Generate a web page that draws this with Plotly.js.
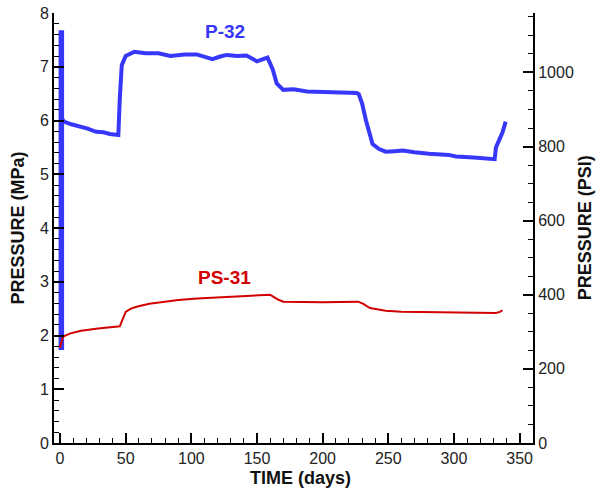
<!DOCTYPE html>
<html><head><meta charset="utf-8">
<script src="https://cdn.plot.ly/plotly-3.0.1.min.js"></script>
<style>html,body{margin:0;padding:0;background:#fff}#chart{width:599px;height:491px}</style>
</head><body><div id="chart"></div>
<script>
// P-32 initial spike (days, MPa)
const spikeDays = [1, 1];
const spikeMPa = [1.73, 7.68];
// P-32 pressure record
const p32Days = [1, 3, 8.6, 15, 21, 27.5, 33, 38, 44, 44.4, 45.5, 47, 50, 53, 56.6, 65, 75, 84, 95, 104, 110, 116, 122, 127, 135, 142, 150, 156, 158, 162, 165, 170, 178, 188, 200, 215, 226, 227.5, 230, 233, 236, 238, 243, 248, 255, 261, 270, 281, 296, 301.5, 315, 329, 331, 332, 334, 337, 339.4];
const p32MPa = [6.05, 5.98, 5.93, 5.89, 5.85, 5.79, 5.78, 5.75, 5.73, 5.73, 6.4, 7.03, 7.2, 7.24, 7.28, 7.25, 7.25, 7.2, 7.23, 7.23, 7.18, 7.14, 7.19, 7.22, 7.2, 7.21, 7.1, 7.15, 7.17, 6.95, 6.69, 6.57, 6.58, 6.54, 6.53, 6.52, 6.51, 6.49, 6.32, 6.0, 5.72, 5.56, 5.47, 5.42, 5.43, 5.44, 5.41, 5.38, 5.36, 5.33, 5.31, 5.27, 5.28, 5.5, 5.6, 5.78, 5.98];
// PS-31 pressure record
const ps31Days = [-0.2, 1, 2.3, 8, 16, 29, 44, 45.5, 46.5, 48, 50, 54, 59, 68, 79, 90, 104.5, 120, 135, 150, 157.6, 160, 162.6, 166, 170, 185, 200, 227, 231, 236, 242, 248, 260, 286, 310, 332, 335, 337];
const ps31MPa = [1.77, 1.9, 1.98, 2.04, 2.09, 2.13, 2.16, 2.17, 2.23, 2.33, 2.44, 2.5, 2.54, 2.59, 2.63, 2.66, 2.69, 2.71, 2.73, 2.75, 2.77, 2.76, 2.72, 2.67, 2.63, 2.62, 2.62, 2.63, 2.59, 2.51, 2.48, 2.46, 2.44, 2.43, 2.42, 2.42, 2.44, 2.47];
const mpaMax = 8;
const psiPerMPa = 145.0377;
const xTitle = 'TIME (days)';
const yTitle = 'PRESSURE (MPa)';
const y2Title = 'PRESSURE (PSI)';

const blue = 'rgb(55,55,250)';
const red = 'rgb(210,0,0)';
const fam = 'Liberation Sans, Arial, sans-serif';
const tickFont = {family: fam, size: 16, color: '#222'};
const titleFont = {family: fam, size: 18, color: '#111', weight: 'bold'};

const traces = [
  {x: spikeDays, y: spikeMPa, mode: 'lines', line: {color: blue, width: 5.5}, showlegend: false, hoverinfo: 'skip'},
  {x: p32Days, y: p32MPa, mode: 'lines', line: {color: blue, width: 4}, showlegend: false},
  {x: ps31Days, y: ps31MPa, mode: 'lines', line: {color: red, width: 2}, showlegend: false},
  {x: [0], y: [0], yaxis: 'y2', mode: 'markers', marker: {opacity: 0}, showlegend: false, hoverinfo: 'skip'}
];

const common = {
  showgrid: false, zeroline: false, showline: true, linecolor: '#000', linewidth: 2,
  ticks: 'inside', ticklen: 10, tickwidth: 2, tickcolor: '#000', automargin: false, tickfont: tickFont
};

const layout = {
  width: 599, height: 491,
  margin: {l: 54, r: 66, t: 13, b: 48},
  paper_bgcolor: '#fff', plot_bgcolor: '#fff',
  font: tickFont,
  xaxis: Object.assign({}, common, {
    range: [-4.6, 360.2], dtick: 50, tick0: 0,
    minor: {dtick: 10, ticks: 'inside', ticklen: 5, tickwidth: 1, tickcolor: '#000', showgrid: false}
  }),
  yaxis: Object.assign({}, common, {
    range: [0, mpaMax], dtick: 1, tick0: 0,
    minor: {dtick: 0.2, ticks: 'inside', ticklen: 5, tickwidth: 1, tickcolor: '#000', showgrid: false}
  }),
  yaxis2: Object.assign({}, common, {
    overlaying: 'y', side: 'right',
    range: [0, mpaMax * psiPerMPa], dtick: 200, tick0: 0,
    minor: {dtick: 50, ticks: 'inside', ticklen: 5, tickwidth: 1, tickcolor: '#000', showgrid: false}
  }),
  annotations: [
    {x: 125.5, y: 7.66, xref: 'x', yref: 'y', text: 'P-32', showarrow: false, font: {family: fam, size: 19, color: blue, weight: 'bold'}},
    {x: 125.5, y: 3.07, xref: 'x', yref: 'y', text: 'PS-31', showarrow: false, font: {family: fam, size: 19, color: red, weight: 'bold'}},
    {x: 300, y: 478, xref: 'paper', yref: 'paper', text: xTitle, showarrow: false, font: titleFont,
     xanchor: 'center', yanchor: 'middle'},
    {x: 17.5, y: 228, text: yTitle, textangle: -90, showarrow: false, font: titleFont, xanchor: 'center', yanchor: 'middle'},
    {x: 585.3, y: 228, text: y2Title, textangle: -90, showarrow: false, font: titleFont, xanchor: 'center', yanchor: 'middle'}
  ]
};
// convert pixel-placed title annotations to paper coordinates
const pw = 599 - 54 - 66, ph = 491 - 13 - 48;
layout.annotations.slice(2).forEach(a => {
  a.xref = 'paper'; a.yref = 'paper';
  a.x = (a.x - 54) / pw;
  a.y = (491 - 48 - a.y) / ph;
});

Plotly.newPlot('chart', traces, layout, {staticPlot: true, displayModeBar: false});
</script>
</body></html>
